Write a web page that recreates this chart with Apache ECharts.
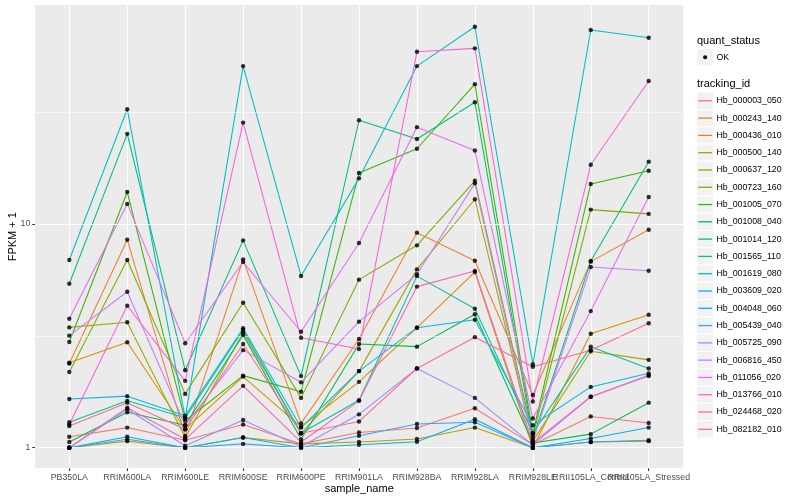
<!DOCTYPE html>
<html><head><meta charset="utf-8">
<script src="https://cdn.jsdelivr.net/npm/echarts@6/dist/echarts.min.js"></script>
<style>html,body{margin:0;padding:0;background:#fff}#c{width:800px;height:500px}</style>
</head><body><div id="c"></div><script>
// ---- data ----
const categories = ['PB350LA','RRIM600LA','RRIM600LE','RRIM600SE','RRIM600PE','RRIM901LA','RRIM928BA','RRIM928LA','RRIM928LE','RRII105LA_Control','RRII105LA_Stressed'];
const trackingIds = ['Hb_000003_050','Hb_000243_140','Hb_000436_010','Hb_000500_140','Hb_000637_120','Hb_000723_160','Hb_001005_070','Hb_001008_040','Hb_001014_120','Hb_001565_110','Hb_001619_080','Hb_003609_020','Hb_004048_060','Hb_005439_040','Hb_005725_090','Hb_006816_450','Hb_011056_020','Hb_013766_010','Hb_024468_020','Hb_082182_010'];
const Hb_000003_050 = [1.12, 1.23, 1.08, 1.27, 1.04, 1.17, 1.225, 1.50, 1.03, 1.38, 1.29];
const Hb_000243_140 = [2.38, 8.51, 1.13, 6.95, 1.285, 3.06, 9.15, 6.85, 1.72, 6.79, 9.43];
const Hb_000436_010 = [2.40, 2.96, 1.21, 2.08, 1.24, 1.97, 3.44, 6.1, 1.0, 3.23, 3.93];
const Hb_000500_140 = [1.0, 1.07, 1.0, 1.11, 1.04, 1.06, 1.094, 1.23, 1.0, 1.06, 1.07];
const Hb_000637_120 = [3.45, 3.64, 1.11, 3.27, 1.16, 2.20, 6.27, 12.9, 1.07, 2.70, 2.47];
const Hb_000723_160 = [2.18, 6.9, 1.74, 4.45, 1.67, 5.64, 8.03, 15.6, 1.13, 11.6, 11.1];
const Hb_001005_070 = [2.97, 13.9, 1.32, 2.10, 1.78, 16.9, 21.7, 42.2, 1.16, 15.1, 17.3];
const Hb_001008_040 = [1.06, 1.44, 1.26, 3.19, 1.09, 2.91, 2.83, 3.95, 1.05, 1.15, 1.59];
const Hb_001014_120 = [5.41, 25.3, 2.22, 8.45, 2.09, 29.1, 24.0, 35.0, 1.10, 6.83, 19.0];
const Hb_001565_110 = [1.30, 1.62, 1.36, 3.36, 1.16, 1.63, 5.85, 4.18, 1.16, 2.83, 2.26];
const Hb_001619_080 = [6.9, 32.6, 1.36, 50.8, 5.86, 16.0, 50.8, 76.2, 2.36, 73.7, 68.0];
const Hb_003609_020 = [1.65, 1.70, 1.39, 3.42, 1.23, 2.20, 3.44, 3.73, 1.26, 1.87, 2.15];
const Hb_004048_060 = [1.0, 1.12, 1.0, 1.11, 1.0, 1.03, 1.064, 1.34, 1.0, 1.10, 1.23];
const Hb_005439_040 = [1.0, 1.09, 1.0, 1.04, 1.0, 1.13, 1.276, 1.30, 1.0, 1.06, 1.08];
const Hb_005725_090 = [1.0, 1.485, 1.02, 1.33, 1.01, 1.41, 2.26, 1.67, 1.03, 1.69, 2.09];
const Hb_006816_450 = [3.17, 4.98, 1.26, 2.73, 1.96, 3.66, 5.96, 15.2, 1.07, 6.42, 6.18];
const Hb_011056_020 = [3.77, 12.3, 2.93, 6.76, 3.30, 8.22, 27.1, 21.3, 1.35, 4.08, 13.2];
const Hb_013766_010 = [1.27, 4.31, 1.99, 28.4, 3.10, 2.76, 58.9, 61.0, 1.61, 18.4, 43.6];
const Hb_024468_020 = [1.0, 1.51, 1.09, 1.89, 1.06, 1.62, 5.25, 6.17, 1.05, 1.69, 2.11];
const Hb_082182_010 = [1.25, 1.59, 1.21, 2.91, 1.16, 1.31, 2.26, 3.12, 2.30, 2.73, 3.60];
const seriesValues = [Hb_000003_050,Hb_000243_140,Hb_000436_010,Hb_000500_140,Hb_000637_120,Hb_000723_160,Hb_001005_070,Hb_001008_040,Hb_001014_120,Hb_001565_110,Hb_001619_080,Hb_003609_020,Hb_004048_060,Hb_005439_040,Hb_005725_090,Hb_006816_450,Hb_011056_020,Hb_013766_010,Hb_024468_020,Hb_082182_010];
const yTickValues = [1, 10];
const yMinorGrid = [3.1623, 31.623];
const statusLevels = ['OK'];

// ---- style ----
const colors = ['#F8766D','#EA8331','#D89000','#C09B00','#A3A500','#7CAE00','#39B600','#00BB4E','#00BF7D','#00C1A3','#00BFC4','#00BAE0','#00B0F6','#35A2FF','#9590FF','#C77CFF','#E76BF3','#FA62DB','#FF62BC','#FF6C91'];
const FONT = '"Liberation Sans", Arial, sans-serif';
const YMIN = 0.809, YMAX = 95.3;
const panel = {left: 35, top: 5, width: 648.3, height: 463.3};

const chart = echarts.init(document.getElementById('c'), null, {renderer: 'canvas'});

const series = [];
series.push({
  type: 'line', xAxisIndex: 0, yAxisIndex: 0, data: [[0.5, 1]], symbol: 'none',
  lineStyle: {opacity: 0}, silent: true, z: 1,
  markLine: {
    silent: true, symbol: 'none', label: {show: false}, animation: false,
    lineStyle: {color: '#FFFFFF', type: 'solid'},
    data: yTickValues.map(v => ({yAxis: v, lineStyle: {width: 1.1, color: '#fff', type: 'solid'}}))
      .concat(yMinorGrid.map(v => ({yAxis: v, lineStyle: {width: 0.55, color: '#fff', type: 'solid'}})))
  }
});
trackingIds.forEach((id, i) => {
  series.push({
    type: 'line', name: id, xAxisIndex: 1, yAxisIndex: 1,
    data: seriesValues[i].map((v, j) => [categories[j], v]),
    symbol: 'none', lineStyle: {color: colors[i], width: 1.07}, itemStyle: {color: colors[i]},
    z: 3, silent: true
  });
});
trackingIds.forEach((id, i) => {
  series.push({
    type: 'scatter', name: id + '_pts', xAxisIndex: 1, yAxisIndex: 1,
    data: seriesValues[i].map((v, j) => [categories[j], v]),
    symbol: 'circle', symbolSize: 4.4, itemStyle: {color: '#000000'}, z: 5, silent: true
  });
});

const graphics = [];
graphics.push({type: 'text', style: {text: 'FPKM + 1', x: 12.7, y: 236.7, font: '11px ' + FONT, fill: '#000', align: 'center', verticalAlign: 'middle'}, rotation: Math.PI / 2, x: 0, y: 0, originX: 12.7, originY: 236.7});
graphics.push({type: 'text', style: {text: 'sample_name', x: 359.2, y: 488.5, font: '11px ' + FONT, fill: '#000', align: 'center', verticalAlign: 'middle'}});
// legend: quant_status
graphics.push({type: 'text', style: {text: 'quant_status', x: 697, y: 40.6, font: '11px ' + FONT, fill: '#000', align: 'left', verticalAlign: 'middle'}});
statusLevels.forEach((s, k) => {
  const cy = 57.2 + k * 17.28;
  graphics.push({type: 'rect', shape: {x: 696.5, y: cy - 8.64, width: 17.28, height: 17.28}, style: {fill: '#F2F2F2', stroke: '#FFFFFF', lineWidth: 1}});
  graphics.push({type: 'circle', shape: {cx: 705.1, cy: cy, r: 2}, style: {fill: '#000'}});
  graphics.push({type: 'text', style: {text: s, x: 716.5, y: cy, font: '8.8px ' + FONT, fill: '#000', align: 'left', verticalAlign: 'middle'}});
});
graphics.push({type: 'text', style: {text: 'tracking_id', x: 697, y: 84.4, font: '11px ' + FONT, fill: '#000', align: 'left', verticalAlign: 'middle'}});
trackingIds.forEach((id, i) => {
  const cy = 100.8 + i * 17.29;
  graphics.push({type: 'rect', shape: {x: 696.5, y: cy - 8.64, width: 17.28, height: 17.28}, style: {fill: '#F2F2F2', stroke: '#FFFFFF', lineWidth: 1}});
  graphics.push({type: 'line', shape: {x1: 698.2, y1: cy, x2: 712.1, y2: cy}, style: {stroke: colors[i], lineWidth: 1.3}});
  graphics.push({type: 'text', style: {text: id, x: 716.5, y: cy, font: '8.8px ' + FONT, fill: '#000', align: 'left', verticalAlign: 'middle'}});
});

chart.setOption({
  animation: false,
  backgroundColor: '#FFFFFF',
  grid: [
    {left: panel.left, top: panel.top, width: panel.width, height: panel.height, show: true, backgroundColor: '#EBEBEB', borderWidth: 0, containLabel: false},
    {left: 69.3, top: panel.top, width: 579.4, height: panel.height, show: false, containLabel: false}
  ],
  xAxis: [
    {gridIndex: 0, type: 'value', min: 0, max: 1, show: false},
    {gridIndex: 1, type: 'category', data: categories, boundaryGap: false,
     axisLine: {show: false},
     axisTick: {show: true, length: 2.75, lineStyle: {color: '#333333', width: 1.07}, alignWithLabel: true},
     axisLabel: {interval: 0, margin: 4.6, fontSize: 8.8, color: '#4D4D4D', fontFamily: FONT, hideOverlap: false},
     splitLine: {show: true, lineStyle: {color: '#FFFFFF', width: 1.07}}}
  ],
  yAxis: [
    {gridIndex: 0, type: 'log', logBase: 10, min: YMIN, max: YMAX,
     axisLine: {show: false},
     axisTick: {show: true, length: 2.75, lineStyle: {color: '#333333', width: 1.07}, customValues: yTickValues},
     axisLabel: {margin: 4.6, fontSize: 8.8, color: '#4D4D4D', fontFamily: FONT, customValues: yTickValues,
                 formatter: v => String(Math.round(v))},
     splitLine: {show: false}},
    {gridIndex: 1, type: 'log', logBase: 10, min: YMIN, max: YMAX, show: false, splitLine: {show: false}}
  ],
  series: series,
  graphic: {elements: graphics}
});
</script></body></html>
